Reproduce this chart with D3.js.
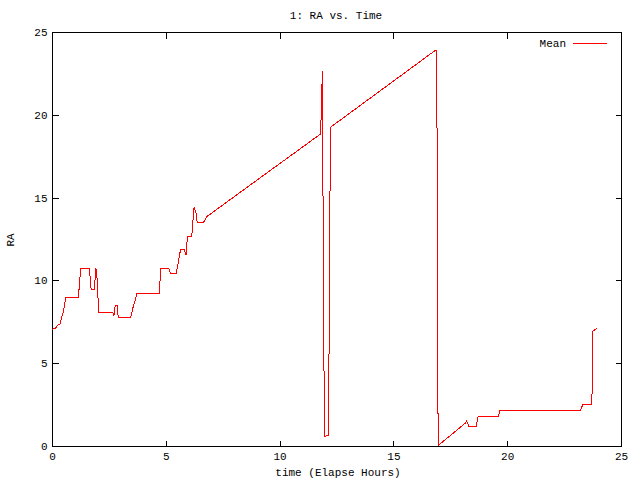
<!DOCTYPE html>
<html><head><meta charset="utf-8">
<script src="https://cdn.jsdelivr.net/npm/d3@7"></script>
<style>body{margin:0;background:#fff}svg{display:block}text{font-family:"Liberation Mono","DejaVu Sans Mono",monospace;font-size:11px;fill:#000}</style>
</head><body><svg id="c" width="640" height="480"></svg>
<script>
const title = "1: RA vs. Time";
const xLabel = "time (Elapse Hours)";
const yLabel = "RA";
const seriesName = "Mean";
const xTicks = [0, 5, 10, 15, 20, 25];
const yTicks = [0, 5, 10, 15, 20, 25];
const timeHours = [0.00,0.15,0.25,0.35,0.43,0.50,0.55,0.60,1.16,1.26,1.64,1.72,1.86,1.93,1.98,2.03,2.06,2.67,2.72,2.78,2.86,2.91,3.46,3.52,3.58,3.66,3.72,4.71,4.78,5.13,5.21,5.45,5.54,5.65,5.80,5.89,5.95,6.14,6.24,6.33,6.38,6.65,6.80,9.00,11.80,11.82,11.86,11.88,11.90,11.94,11.98,12.14,12.17,12.21,12.24,14.50,16.84,16.90,16.92,16.94,16.97,17.05,18.15,18.22,18.32,18.63,18.73,19.61,19.68,23.20,23.32,23.71,23.74,23.77,23.95];
const raMean =    [7.05,7.10,7.30,7.37,7.80,8.10,8.50,8.98,8.98,10.73,10.73,9.46,9.46,10.75,10.10,8.70,8.05,8.05,7.85,8.50,8.50,7.77,7.77,8.10,8.50,8.80,9.18,9.18,10.73,10.73,10.39,10.39,11.03,11.88,11.88,11.53,12.68,12.68,14.41,14.05,13.48,13.48,13.85,16.05,18.84,19.73,21.66,22.64,17.10,6.10,0.56,0.66,5.29,14.60,19.25,21.53,23.89,23.91,17.98,6.00,0.00,0.12,1.37,1.51,1.17,1.17,1.81,1.81,2.13,2.13,2.48,2.48,3.62,6.94,7.10];

const L = 52, R = 621, T = 32, B = 446;
const svg = d3.select("#c");
const x = d3.scaleLinear().domain([0, 25]).range([L, R]);
const y = d3.scaleLinear().domain([0, 25]).range([B, T]);
const tk = 6;

// axes with inward ticks
const gx = svg.append("g").attr("transform", `translate(0,${B + 0.5})`)
  .call(d3.axisBottom(x).tickValues(xTicks).tickSize(-tk).tickPadding(6).tickFormat(d3.format("d")));
const gxt = svg.append("g").attr("transform", `translate(0,${T + 0.5})`)
  .call(d3.axisTop(x).tickValues(xTicks).tickSize(-tk).tickFormat(""));
const gy = svg.append("g").attr("transform", `translate(${L + 0.5},0)`)
  .call(d3.axisLeft(y).tickValues(yTicks).tickSize(-tk).tickPadding(5).tickFormat(d3.format("d")));
const gyr = svg.append("g").attr("transform", `translate(${R + 0.5},0)`)
  .call(d3.axisRight(y).tickValues(yTicks).tickSize(-tk).tickFormat(""));
[gx, gxt, gy, gyr].forEach(g => {
  g.select(".domain").remove();
  g.selectAll("line").attr("stroke", "#000").attr("shape-rendering", "crispEdges");
  g.selectAll("text").attr("font-family", null).attr("font-size", null).style("fill", "#000");
});
gx.selectAll("text").attr("dy", "0.71em");
svg.append("rect").attr("x", L + 0.5).attr("y", T + 0.5).attr("width", R - L).attr("height", B - T)
  .attr("fill", "none").attr("stroke", "#000").attr("shape-rendering", "crispEdges");

// data line
const pts = timeHours.map((t, i) => [t, raMean[i]]);
svg.append("path").datum(pts)
  .attr("d", d3.line().x(d => x(d[0])).y(d => y(d[1])))
  .attr("fill", "none").attr("stroke", "#ff0000").attr("stroke-width", 1)
  .attr("shape-rendering", "crispEdges");

// title and labels
svg.append("text").attr("x", 336).attr("y", 19).attr("text-anchor", "middle").text(title);
svg.append("text").attr("x", 338).attr("y", 476).attr("text-anchor", "middle").text(xLabel);
svg.append("text").attr("transform", "translate(14,240) rotate(-90)").attr("text-anchor", "middle").text(yLabel);

// legend
svg.append("text").attr("x", 566).attr("y", 47).attr("text-anchor", "end").text(seriesName);
svg.append("line").attr("x1", 573).attr("x2", 607).attr("y1", 43.5).attr("y2", 43.5)
  .attr("stroke", "#ff0000").attr("stroke-width", 1).attr("shape-rendering", "crispEdges");
</script></body></html>
